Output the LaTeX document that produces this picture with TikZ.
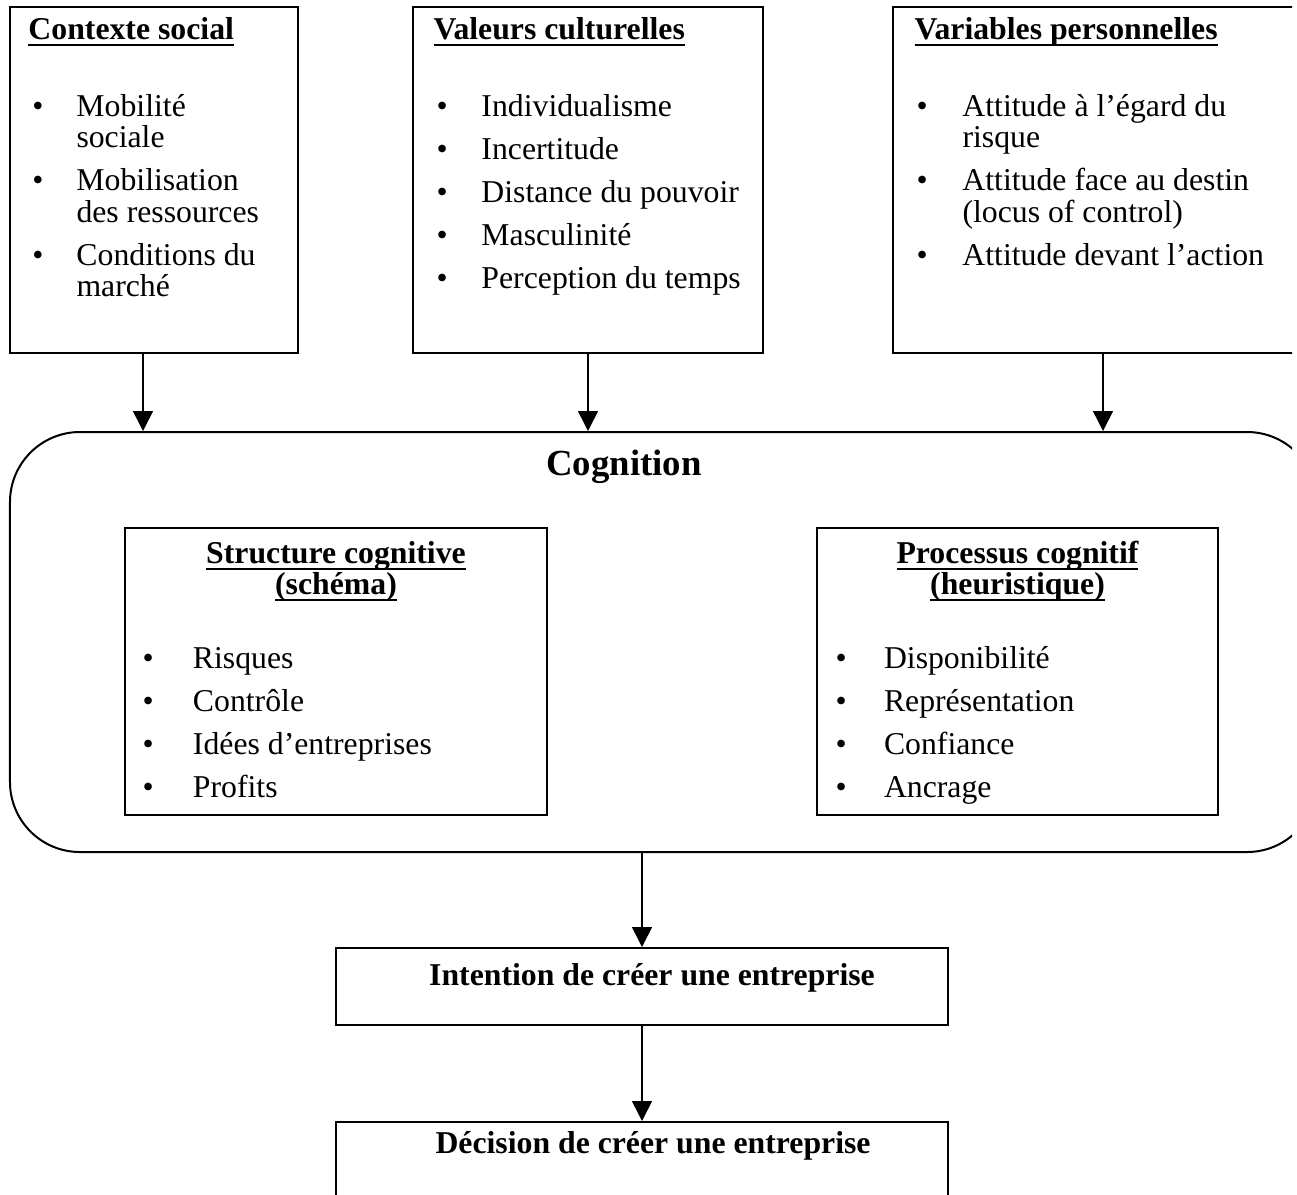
\documentclass[tikz,border=0pt]{standalone}
\usepackage{fontspec}
\setmainfont{Liberation Serif}
\usetikzlibrary{arrows.meta}

% texte souligne a la maniere d'un traitement de texte
\newcommand{\souligne}[1]{\setbox0\hbox{#1}\rlap{\rule[-2.6pt]{\wd0}{0.7pt}}\box0}
\newcommand{\taille}{\fontsize{12.7pt}{12.6pt}\selectfont}
\newcommand{\puces}[2]{\begin{tabular}[t]{@{}p{#1}@{}l@{}}#2\end{tabular}}

\tikzset{
  cadre/.style={draw, line width=0.8pt, inner sep=0pt},
  titre/.style={anchor=base west, inner sep=0pt, font=\taille\bfseries},
  liste/.style={anchor=base west, inner sep=0pt, font=\taille},
  fleche/.style={-{Triangle[width=8pt,length=8pt]}, line width=0.6pt},
}

\begin{document}
\begin{tikzpicture}[x=0.4pt,y=-0.4pt]
\useasboundingbox (0,0) rectangle (1297,1194);
\clip (0,0) rectangle (1292,1194);

% les trois cadres du haut
\node[cadre, minimum width=115.2pt, minimum height=138.4pt] (ctx) at (154,180) {};
\node[cadre, minimum width=140pt, minimum height=138.4pt] (val) at (588,180) {};
\node[cadre, minimum width=168pt, minimum height=138.4pt] (var) at (1103,180) {};

\node[titre] (ctxtitre) at (28,39) {\souligne{Contexte social}};
\node[titre] (valtitre) at (433,39) {\souligne{Valeurs culturelles}};
\node[titre] (vartitre) at (914,39) {\souligne{Variables personnelles}};

\node[liste] (ctxliste) at (32,116) {\puces{17.6pt}{%
  \textbullet & Mobilité\\ & sociale\\[4.6pt]
  \textbullet & Mobilisation\\ & des ressources\\[4.6pt]
  \textbullet & Conditions du\\ & marché}};
\node[liste] (valliste) at (436,116) {\puces{18pt}{%
  \textbullet & Individualisme\\[4.6pt]
  \textbullet & Incertitude\\[4.6pt]
  \textbullet & Distance du pouvoir\\[4.6pt]
  \textbullet & Masculinité\\[4.6pt]
  \textbullet & Perception du temps}};
\node[liste] (varliste) at (916,116) {\puces{18.4pt}{%
  \textbullet & Attitude à l’égard du\\ & risque\\[4.6pt]
  \textbullet & Attitude face au destin\\ & (locus of control)\\[4.6pt]
  \textbullet & Attitude devant l’action}};

% le cadre arrondi de la cognition
\node[cadre, rounded corners=28pt, minimum width=522.8pt, minimum height=168pt] (cog) at (663.5,642) {};
\node[inner sep=0pt, anchor=base, font=\fontsize{14.7pt}{17pt}\selectfont\bfseries] (cogtitre) at (624,475) {Cognition};

\node[cadre, minimum width=168.8pt, minimum height=114.8pt] (struct) at (336,671.5) {};
\node[cadre, minimum width=160.4pt, minimum height=114.8pt] (proc) at (1017.5,671.5) {};

\node[titre, anchor=base] (structtitre) at (336,563) {\begin{tabular}[t]{@{}c@{}}
  \souligne{Structure cognitive}\\ \souligne{(schéma)}\end{tabular}};
\node[titre, anchor=base] (proctitre) at (1017.5,563) {\begin{tabular}[t]{@{}c@{}}
  \souligne{Processus cognitif}\\ \souligne{(heuristique)}\end{tabular}};

\node[liste] (structliste) at (142,668) {\puces{20.2pt}{%
  \textbullet & Risques\\[4.6pt]
  \textbullet & Contrôle\\[4.6pt]
  \textbullet & Idées d’entreprises\\[4.6pt]
  \textbullet & Profits}};
\node[liste] (procliste) at (835,668) {\puces{19.4pt}{%
  \textbullet & Disponibilité\\[4.6pt]
  \textbullet & Représentation\\[4.6pt]
  \textbullet & Confiance\\[4.6pt]
  \textbullet & Ancrage}};

% intention et decision
\node[cadre, minimum width=244.8pt, minimum height=30.8pt] (intention) at (642,986.5) {};
\node[titre, anchor=base] (intentiontxt) at (652,985) {Intention de créer une entreprise};
\node[cadre, minimum width=244.8pt, minimum height=60pt] (decision) at (642,1197) {};
\node[titre, anchor=base] (decisiontxt) at (653,1153) {Décision de créer une entreprise};

% fleches
\coordinate (f1) at (143,0);
\draw[fleche] (ctx.south -| f1) -- (cog.north -| f1);
\draw[fleche] (val.south) -- (cog.north -| val.south);
\draw[fleche] (var.south) -- (cog.north -| var.south);
\draw[fleche] (cog.south -| intention.north) -- (intention.north);
\draw[fleche] (intention.south) -- (decision.north);
\end{tikzpicture}
\end{document}
